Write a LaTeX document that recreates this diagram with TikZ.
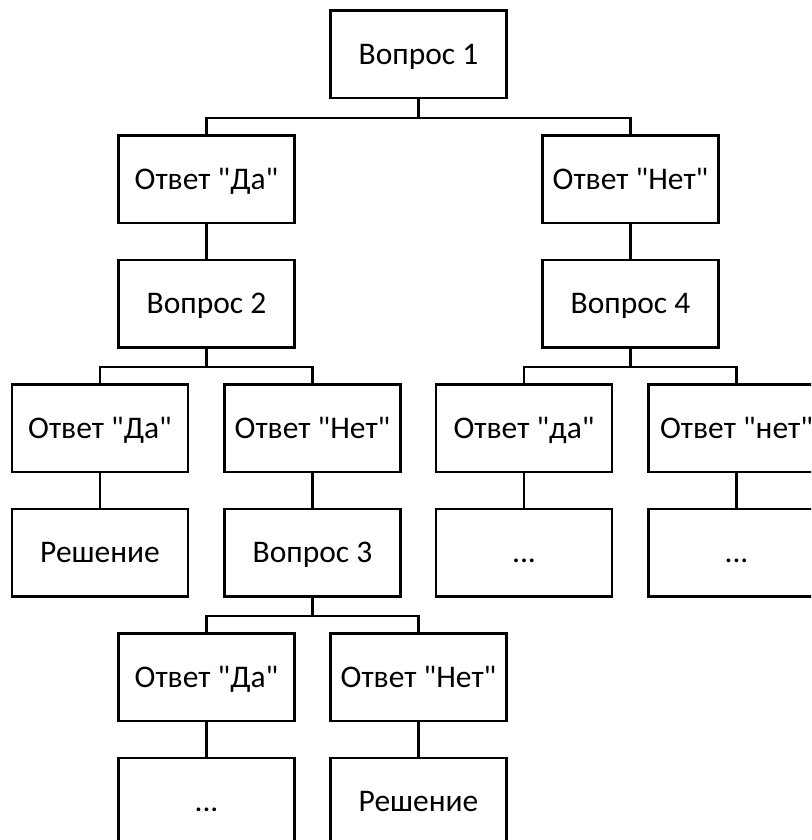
\documentclass[tikz,border=0pt]{standalone}
\usepackage{fontspec}
\setmainfont{Carlito}
\newcommand{\qq}{\textquotedbl}
\begin{document}
\begin{tikzpicture}[x=1pt,y=-1pt,
  box/.style={draw, line width=2.5pt, minimum width=176pt, minimum height=87.5pt, inner sep=0pt,
    text height=20.3pt, text depth=0pt, font=\fontsize{31.5}{36}\selectfont},
  conn/.style={line width=2.5pt}]
\clip (0,0) rectangle (811,840);
\fill[white] (0,0) rectangle (811,840);
% rows
\node[box] (q1) at (418.5,54.5) {Вопрос 1};
\node[box] (a1) at (206.5,179) {Ответ \qq Да\qq};
\node[box] (b1) at (630.5,179) {Ответ \qq Нет\qq};
\node[box] (q2) at (206.5,303.5) {Вопрос 2};
\node[box] (q4) at (630.5,303.5) {Вопрос 4};
\node[box] (a2) at (100,428) {Ответ \qq Да\qq};
\node[box] (b2) at (312.5,428) {Ответ \qq Нет\qq};
\node[box] (a4) at (524,428) {Ответ \qq да\qq};
\node[box] (b4) at (736.5,428) {Ответ \qq нет\qq};
\node[box] (r1) at (100,552.5) {Решение};
\node[box] (q3) at (312.5,552.5) {Вопрос 3};
\node[box] (d1) at (524,552.5) {...};
\node[box] (d2) at (736.5,552.5) {...};
\node[box] (a3) at (206.5,677) {Ответ \qq Да\qq};
\node[box] (b3) at (418.5,677) {Ответ \qq Нет\qq};
\node[box] (d3) at (206.5,801.5) {...};
\node[box] (r2) at (418.5,801.5) {Решение};
% connectors
\draw[conn] (q1.south) -- ++(0,18.5) -| (a1.north);
\draw[conn] (q1.south) -- ++(0,18.5) -| (b1.north);
\draw[conn] (a1.south) -- (q2.north);
\draw[conn] (b1.south) -- (q4.north);
\draw[conn] (q2.south) -- ++(0,18.5) -| (a2.north);
\draw[conn] (q2.south) -- ++(0,18.5) -| (b2.north);
\draw[conn] (q4.south) -- ++(0,18.5) -| (a4.north);
\draw[conn] (q4.south) -- ++(0,18.5) -| (b4.north);
\draw[conn] (a2.south) -- (r1.north);
\draw[conn] (b2.south) -- (q3.north);
\draw[conn] (a4.south) -- (d1.north);
\draw[conn] (b4.south) -- (d2.north);
\draw[conn] (q3.south) -- ++(0,18.5) -| (a3.north);
\draw[conn] (q3.south) -- ++(0,18.5) -| (b3.north);
\draw[conn] (a3.south) -- (d3.north);
\draw[conn] (b3.south) -- (r2.north);
\end{tikzpicture}
\end{document}
